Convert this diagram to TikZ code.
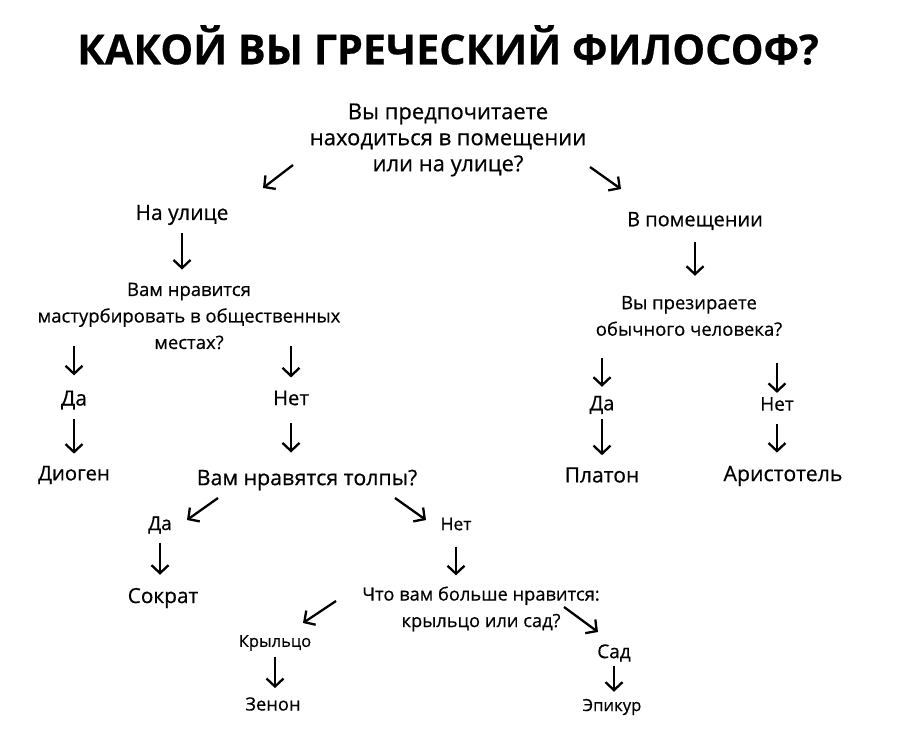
\documentclass[tikz,border=0pt]{standalone}
\usepackage{fontspec}
\setmainfont{Open Sans}[FakeBold=0.5]
\usetikzlibrary{positioning, arrows.meta, calc}
\newcommand\fsz[1]{\fontsize{#1}{26.5}\selectfont}

\begin{document}
\begin{tikzpicture}[x=1pt, y=-1pt,
	txt/.style={inner sep=0pt, align=center, font=\fsz{22}},
	arr/.style={line width=2.3pt, -{Straight Barb[length=8pt, width=17pt]}}]
	\path[fill=white, use as bounding box] (0,0) rectangle (900,743);

	\node (title) [font=\fontsize{41.3}{42}\selectfont\bfseries] at (448,45) {КАКОЙ ВЫ ГРЕЧЕСКИЙ ФИЛОСОФ?};
	\node[txt, font=\fontsize{22}{26}\selectfont] (q1) at (448,140) {Вы предпочитаете\\находиться в помещении\\или на улице?};

	% outside
	\node[txt, font=\fsz{21}] (ul) at (182,215) {На улице};
	\node[txt, font=\fsz{18.5}] (q2) at (189,316) {Вам нравится\\мастурбировать в общественных\\местах?};
	\node[txt, font=\fsz{21}] (da1) at (74,400) {Да};
	\node[txt, font=\fsz{20.3}] (net1) at (291,398) {Нет};
	\node[txt, font=\fsz{20.3}] (diogen) at (74,475) {Диоген};
	\node[txt, font=\fsz{21.3}] (q3) at (307,480) {Вам нравятся толпы?};
	\node[txt, font=\fsz{19}] (da2) at (160,525) {Да};
	\node[txt, font=\fsz{17.5}] (net2) at (456,524) {Нет};
	\node[txt, font=\fsz{20.8}] (sokrat) at (163,598) {Сократ};
	\node[txt, font=\fsz{18.3}] (q4) at (481,609) {Что вам больше нравится:\\крыльцо или сад?};
	\node[txt, font=\fsz{16.5}] (krylco) at (275,643) {Крыльцо};
	\node[txt, font=\fsz{19}] (sad) at (614,653) {Сад};
	\node[txt, font=\fsz{18.3}] (zenon) at (273,704) {Зенон};
	\node[txt, font=\fsz{16.7}] (epikur) at (612,707) {Эпикур};

	% inside
	\node[txt, font=\fsz{20}] (pom) at (695,221) {В помещении};
	\node[txt, font=\fsz{18.5}] (q5) at (689,316) {Вы презираете\\обычного человека?};
	\node[txt, font=\fsz{20}] (da3) at (602,405) {Да};
	\node[txt, font=\fsz{19}] (net3) at (777,404) {Нет};
	\node[txt, font=\fsz{21}] (platon) at (602,475) {Платон};
	\node[txt, font=\fsz{21.3}] (arist) at (783,476) {Аристотель};

	% diagonal arrows
	\draw[arr] ([shift={(-155,25)}]q1.center) -- ([shift={(81,-27)}]ul.center);
	\draw[arr] ([shift={(142,27)}]q1.center) -- ([shift={(-74,-32)}]pom.center);
	\draw[arr] ([shift={(-89,18)}]q3.center) -- ([shift={(27,-5)}]da2.center);
	\draw[arr] ([shift={(88,18)}]q3.center) -- ([shift={(-30,-4)}]net2.center);
	\draw[arr] ([shift={(-145,-8)}]q4.center) -- ([shift={(28,-20)}]krylco.center);
	\draw[arr] ([shift={(83,-2)}]q4.center) -- ([shift={(-16,-21)}]sad.center);

	% down arrows
	\draw[arr, shorten <=8pt, shorten >=13pt] (ul) -- (ul |- q2.north);
	\draw[arr, shorten <=-3pt, shorten >=15pt] (q2.south -| da1) -- (da1);
	\draw[arr, shorten <=-3pt, shorten >=13pt] (q2.south -| net1) -- (net1);
	\draw[arr, shorten <=9pt, shorten >=12pt] (da1) -- (diogen);
	\draw[arr, shorten <=17pt, shorten >=17pt] (net1) -- (net1 |- q3.north);
	\draw[arr, shorten <=9pt, shorten >=13pt] (da2) -- (da2 |- sokrat.north);
	\draw[arr, shorten <=16pt, shorten >=11pt] (net2) -- (net2 |- q4.north);
	\draw[arr, shorten <=6pt, shorten >=9pt] (krylco) -- (krylco |- zenon.north);
	\draw[arr, shorten <=4pt, shorten >=7pt] (sad) -- (sad |- epikur.north);
	\draw[arr, shorten <=12pt, shorten >=20pt] (pom) -- (pom |- q5.north);
	\draw[arr, shorten <=22pt, shorten >=9pt] (q5.south -| da3) -- (da3);
	\draw[arr, shorten <=27pt, shorten >=4pt] (q5.south -| net3) -- (net3);
	\draw[arr, shorten <=5pt, shorten >=12pt] (da3) -- (platon);
	\draw[arr, shorten <=13pt, shorten >=13pt] (net3) -- (net3 |- arist.north);
\end{tikzpicture}
\end{document}
